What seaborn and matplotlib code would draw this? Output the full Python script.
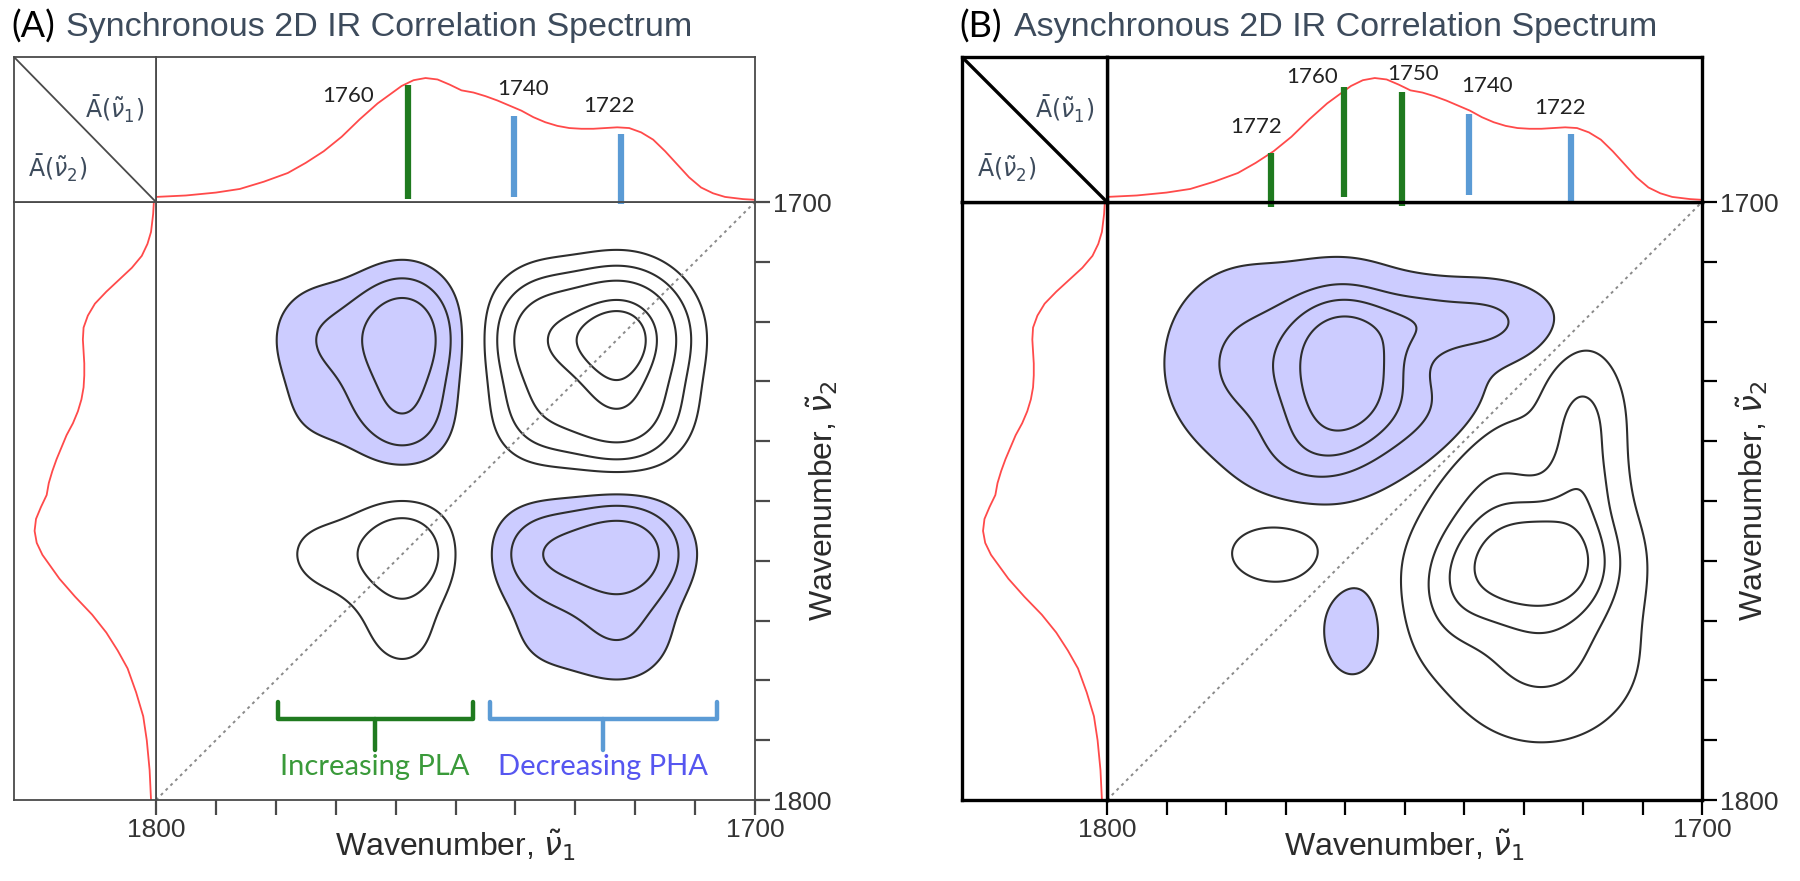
import numpy as np
import matplotlib
matplotlib.use('Agg')
import matplotlib.pyplot as plt
import seaborn as sns

sns.set_theme(style='white')
plt.rcParams['font.family'] = ['Liberation Sans', 'DejaVu Sans']

# averaged 1D spectrum (wavenumber, relative absorbance)
wn = [1800, 1795, 1790, 1786, 1782, 1778, 1775, 1772, 1769, 1766, 1763, 1761, 1759, 1757,
      1755, 1753, 1751, 1749, 1747, 1745, 1743, 1741, 1739, 1737, 1735, 1733, 1731, 1729,
      1727, 1725, 1723, 1721, 1719, 1717, 1715, 1713, 1711, 1709, 1707, 1705, 1702, 1700]
absorb = [0.035, 0.045, 0.065, 0.09, 0.14, 0.20, 0.27, 0.35, 0.45, 0.57, 0.68, 0.74, 0.80, 0.84,
          0.855, 0.845, 0.81, 0.77, 0.755, 0.73, 0.70, 0.665, 0.63, 0.585, 0.55, 0.525, 0.51, 0.505,
          0.505, 0.51, 0.515, 0.51, 0.48, 0.43, 0.35, 0.26, 0.17, 0.10, 0.06, 0.035, 0.02, 0.015]

# band markers on the top spectra
barsA_pos = [1758.0, 1740.2, 1722.3]
barsA_top = [0.81, 0.59, 0.47]
barsA_bot = [0.02, 0.035, -0.016]
barsA_kind = ['PLA', 'PHA', 'PHA']
labelsA = ['1760', '1740', '1722']
labelsA_x = [1768.0, 1738.7, 1724.3]
labelsA_y = [0.73, 0.78, 0.66]

barsB_pos = [1772.5, 1760.1, 1750.5, 1739.2, 1722.0]
barsB_top = [0.34, 0.795, 0.758, 0.61, 0.47]
barsB_bot = [-0.035, 0.035, -0.03, 0.047, 0.0]
barsB_kind = ['PLA', 'PLA', 'PLA', 'PHA', 'PHA']
labelsB = ['1772', '1760', '1750', '1740', '1722']
labelsB_x = [1775.0, 1765.6, 1748.6, 1736.2, 1723.9]
labelsB_y = [0.52, 0.86, 0.88, 0.80, 0.65]

# synchronous map: band profiles of the two species
pla_center = [1758.5, 1772.0]
pla_amp = [1.0, 0.33]
pla_width = [5.5, 6.5]
pha_center = [1722.3, 1735.5]
pha_amp = [1.0, 0.5]
pha_width = [6.6, 5.8]
pla_weight = 0.6
sync_levels = [0.1, 0.22, 0.4, 0.7, 0.87]

# asynchronous map: cross peaks above the diagonal (mirrored with opposite sign)
async_x = [1760.0, 1760.0, 1776.0, 1737.0, 1748.0, 1745.0, 1765.0, 1771.5]
async_y = [1723.0, 1733.0, 1727.0, 1720.0, 1720.0, 1735.0, 1742.0, 1758.7]
async_amp = [-0.75, -0.7, -0.3, -0.3, -0.2, -0.2, -0.25, 0.12]
async_wx = [6.5, 6.5, 8.0, 7.0, 5.0, 7.0, 7.0, 6.4]
async_wy = [6.0, 6.0, 9.0, 4.0, 4.0, 7.0, 5.0, 4.1]
async_levels = [0.06, 0.25, 0.45, 0.7]

# brackets under panel A
brk_left = [1779.6, 1744.2]
brk_right = [1747.0, 1706.4]
brk_mid = [1763.4, 1725.3]
brk_leg = [1783.6, 1786.4]
brk_stem_end = 1791.6
brk_text_y = 1794.4
brk_text = ['Increasing PLA', 'Decreasing PHA']

GREEN = '#1f7a1f'
BLUE = '#5b9bd5'
FILL = '#ccccff'
TXT = '#3d4b5c'

grid = np.linspace(1700, 1800, 501)
GX, GY = np.meshgrid(grid, grid)


def band(u, centers, amps, widths):
    out = np.zeros_like(u)
    for c, a, w in zip(centers, amps, widths):
        out += a * np.exp(-(u - c) ** 2 / (2 * w ** 2))
    return out


def sync_field():
    d1 = band(GX, pha_center, pha_amp, pha_width) - pla_weight * band(GX, pla_center, pla_amp, pla_width)
    d2 = band(GY, pha_center, pha_amp, pha_width) - pla_weight * band(GY, pla_center, pla_amp, pla_width)
    return d1 * d2


def async_field():
    z = np.zeros_like(GX)
    for cx, cy, a, wx, wy in zip(async_x, async_y, async_amp, async_wx, async_wy):
        g = lambda u, c, w: np.exp(-(u - c) ** 2 / (2 * w ** 2))
        z += a * (g(GX, cx, wx) * g(GY, cy, wy) - g(GY, cx, wx) * g(GX, cy, wy))
    return z


def frac(x0, y0, x1, y1):
    return [x0 / 1800, 1 - y1 / 881, (x1 - x0) / 1800, (y1 - y0) / 881]


def style_box(ax, col, lw):
    for s in ax.spines.values():
        s.set_visible(True)
        s.set_color(col)
        s.set_linewidth(lw)
    ax.set_xticks([])
    ax.set_yticks([])


def panel(ol, ml, mr, z, levels, bars, tag, title, col, lw, ylab_x):
    top, mid, bot = 57, 202, 800
    ax = fig.add_axes(frac(ml, mid, mr, bot))
    axt = fig.add_axes(frac(ml, top, mr, mid))
    axl = fig.add_axes(frac(ol, mid, ml, bot))
    axc = fig.add_axes(frac(ol, top, ml, mid))
    for a in (ax, axt, axl, axc):
        style_box(a, col, lw)

    # 2D map
    ax.contourf(GX, GY, z, levels=[z.min() - 1, -levels[0]], colors=[FILL])
    lv = sorted([-l for l in levels] + levels)
    ax.contour(GX, GY, z, levels=lv, colors='#2e2e2e', linewidths=1.5, linestyles='solid')
    ax.plot([max(wn), min(wn)], [max(wn), min(wn)], ls=(0, (1.5, 2)), color='#8a8a8a', lw=1.4)
    ax.set_xlim(1800, 1700)
    ax.set_ylim(1800, 1700)
    ticks = list(range(1700, 1801, 10))
    tl = ['1700' if t == 1700 else '1800' if t == 1800 else '' for t in ticks]
    ax.set_xticks(ticks)
    ax.set_xticklabels(tl)
    ax.set_yticks(ticks)
    ax.set_yticklabels(tl)
    ax.yaxis.tick_right()
    ax.tick_params(axis='both', direction='out', length=11, width=1.6, color=col,
                   labelsize=19, labelcolor='#333333', pad=2)
    ax.tick_params(axis='x', bottom=True, top=False)
    ax.tick_params(axis='y', right=True, left=False, labelright=True, labelleft=False)
    w = mr - ml
    ax.text(0.5, -0.075, r'Wavenumber, $\tilde{\nu}_1$', transform=ax.transAxes,
            ha='center', va='center', fontsize=23, color='#2b2b2b')
    ax.text((ylab_x - ml) / w, 0.5, r'Wavenumber, $\tilde{\nu}_2$', transform=ax.transAxes, rotation=90,
            ha='center', va='center', fontsize=23, color='#2b2b2b')

    # top spectrum with band markers
    sns.lineplot(x=wn, y=absorb, ax=axt, color='#ff4a4a', lw=1.3)
    pos, topv, botv, kind, labs, lx, ly = bars
    for p, t, b, k in zip(pos, topv, botv, kind):
        axt.vlines(p, b, t, color=GREEN if k == 'PLA' else BLUE, lw=4.5, clip_on=False)
    for s, x, y in zip(labs, lx, ly):
        axt.text(x, y, s, ha='center', va='center', fontsize=16, family=['Lato', 'DejaVu Sans'], color='#222222')
    axt.set_xlim(1800, 1700)
    axt.set_ylim(0, 1)
    axt.set_xlabel('')
    axt.set_ylabel('')

    # left spectrum, rotated
    sns.lineplot(x=absorb, y=wn, ax=axl, color='#ff4a4a', lw=1.3, sort=False, orient='y')
    axl.set_xlim(1, 0)
    axl.set_ylim(1800, 1700)
    axl.set_xlabel('')
    axl.set_ylabel('')
    style_box(axl, col, lw)
    style_box(axt, col, lw)

    # corner
    axc.plot([0, 1], [1, 0], color=col, lw=lw)
    axc.set_xlim(0, 1)
    axc.set_ylim(0, 1)
    axc.text(0.71, 0.64, r'$\bar{\mathrm{A}}(\tilde{\nu}_1)$', ha='center', va='center', fontsize=17, color=TXT)
    axc.text(0.31, 0.23, r'$\bar{\mathrm{A}}(\tilde{\nu}_2)$', ha='center', va='center', fontsize=17, color=TXT)

    # panel tag and title
    fig.text((ol - 3) / 1800, 1 - 38 / 881, tag, fontsize=26, family=['Lato', 'DejaVu Sans'],
             color='black', va='baseline')
    fig.text((ol + 52) / 1800, 1 - 36 / 881, title, fontsize=24.5, color=TXT, va='baseline')
    return ax


fig = plt.figure(figsize=(18, 8.81), dpi=100)

axA = panel(14, 156, 755, sync_field(), sync_levels,
            (barsA_pos, barsA_top, barsA_bot, barsA_kind, labelsA, labelsA_x, labelsA_y),
            '(A)', 'Synchronous 2D IR Correlation Spectrum', '#4a4a4a', 1.3, 822)
axB = panel(962, 1107, 1702, async_field(), async_levels,
            (barsB_pos, barsB_top, barsB_bot, barsB_kind, labelsB, labelsB_x, labelsB_y),
            '(B)', 'Asynchronous 2D IR Correlation Spectrum', 'black', 2.4, 1752)

# brackets in the synchronous map
for l, r, m, s, c, tc in zip(brk_left, brk_right, brk_mid, brk_text, [GREEN, BLUE], ['#3a9a3a', '#5656f0']):
    axA.plot([l, l, r, r], [brk_leg[0], brk_leg[1], brk_leg[1], brk_leg[0]], color=c, lw=3.2,
             solid_joinstyle='round', solid_capstyle='round')
    axA.plot([m, m], [brk_leg[1], brk_stem_end], color=c, lw=3.2)
    axA.text(m, brk_text_y, s, ha='center', va='center', fontsize=21, color=tc, family=['Lato', 'DejaVu Sans'])

fig.savefig('out.png', dpi=100)
